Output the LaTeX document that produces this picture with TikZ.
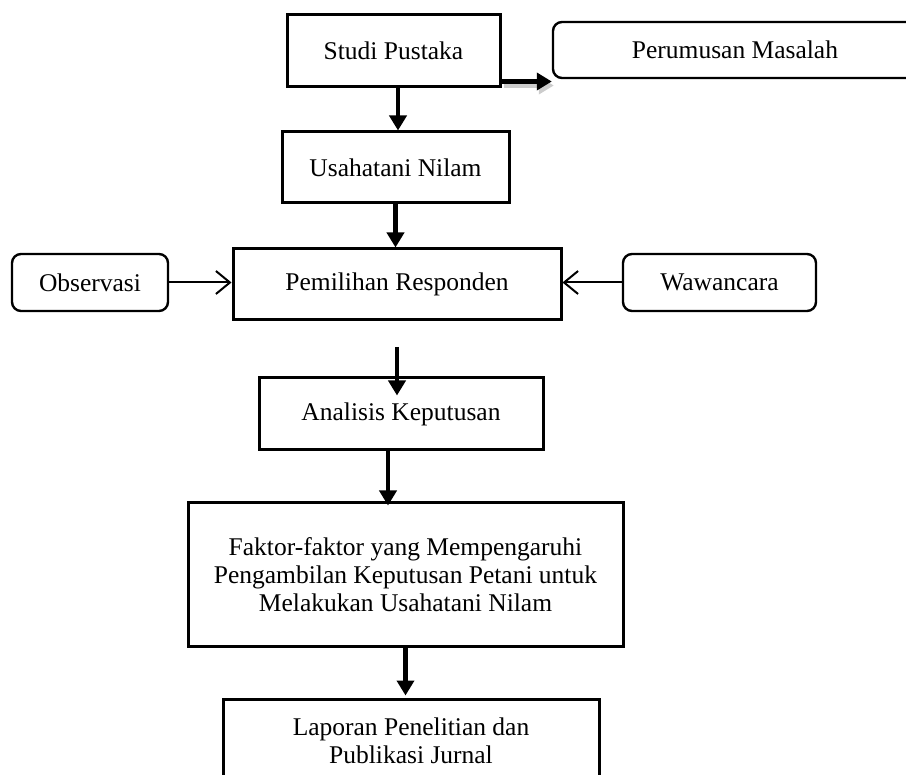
\documentclass[tikz,border=0pt]{standalone}
\usepackage{fontspec}
\setmainfont{Liberation Serif}
\usetikzlibrary{arrows.meta}
\begin{document}
\begin{tikzpicture}[x=1pt,y=-1pt,
kotak/.style={draw,line width=3pt,inner sep=0pt,align=center,font=\fontsize{25.5}{28}\selectfont},
kotakbulat/.style={kotak,rounded corners=9pt,line width=2.4pt},
panahtebal/.style={line width=4.5pt,-{Triangle[length=15pt,width=17pt]}},
panahtipis/.style={line width=2pt,-{Straight Barb[length=14pt,width=23pt]}}]
\useasboundingbox (0,0) rectangle (906,775);
\clip (0,0) rectangle (906,775);
\coordinate[] (jeda) at (397,347);
\node[kotak,minimum width=213pt,minimum height=72pt] (studi) at (393.5,51) {Studi Pustaka};
\node[kotakbulat,minimum width=364pt,minimum height=56pt] (masalah) at (735,50) {Perumusan Masalah};
\node[kotak,minimum width=227pt,minimum height=71pt] (usaha) at (395.5,167.5) {Usahatani Nilam};
\node[kotak,minimum width=328pt,minimum height=71pt] (pilih) at (397,284.5) {Pemilihan Responden};
\node[kotakbulat,minimum width=156pt,minimum height=57pt] (obs) at (90,282.5) {Observasi};
\node[kotakbulat,minimum width=193pt,minimum height=57pt] (waw) at (719.5,282.5) {Wawancara};
\node[kotak,minimum width=284pt,minimum height=72pt] (analisis) at (401,414) {Analisis Keputusan};
\node[kotak,minimum width=435pt,minimum height=144pt] (faktor) at (405.5,575) {Faktor-faktor yang Mempengaruhi\\Pengambilan Keputusan Petani untuk\\Melakukan Usahatani Nilam};
\node[kotak,minimum width=376pt,minimum height=84pt] (laporan) at (411,741) {Laporan Penelitian dan\\Publikasi Jurnal};
% bayangan panah
\draw[panahtebal,draw=gray!40,fill=gray!40] ([xshift=2pt,yshift=3pt]studi.south east) -- ([xshift=2pt,yshift=3pt]studi.south east -| masalah.west);
\draw[panahtebal] ([yshift=7pt]studi.south east) -- ([yshift=7pt]studi.south east -| masalah.west);
\draw[panahtebal] ([xshift=4.5pt]studi.south) -- ([xshift=4.5pt]studi.south |- usaha.north);
\draw[panahtebal] (usaha.south) -- (usaha.south |- pilih.north);
\draw[panahtipis] (obs.east) -- (obs.east -| pilih.west);
\draw[panahtipis] (waw.west) -- (waw.west -| pilih.east);
\draw[panahtebal] (jeda) -- ([yshift=-19pt]jeda |- analisis.north);
\draw[panahtebal] ([xshift=-13pt]analisis.south) -- ([xshift=-13pt,yshift=-4pt]analisis.south |- faktor.north);
\draw[panahtebal] (faktor.south) -- ([yshift=2pt]faktor.south |- laporan.north);
\end{tikzpicture}
\end{document}
